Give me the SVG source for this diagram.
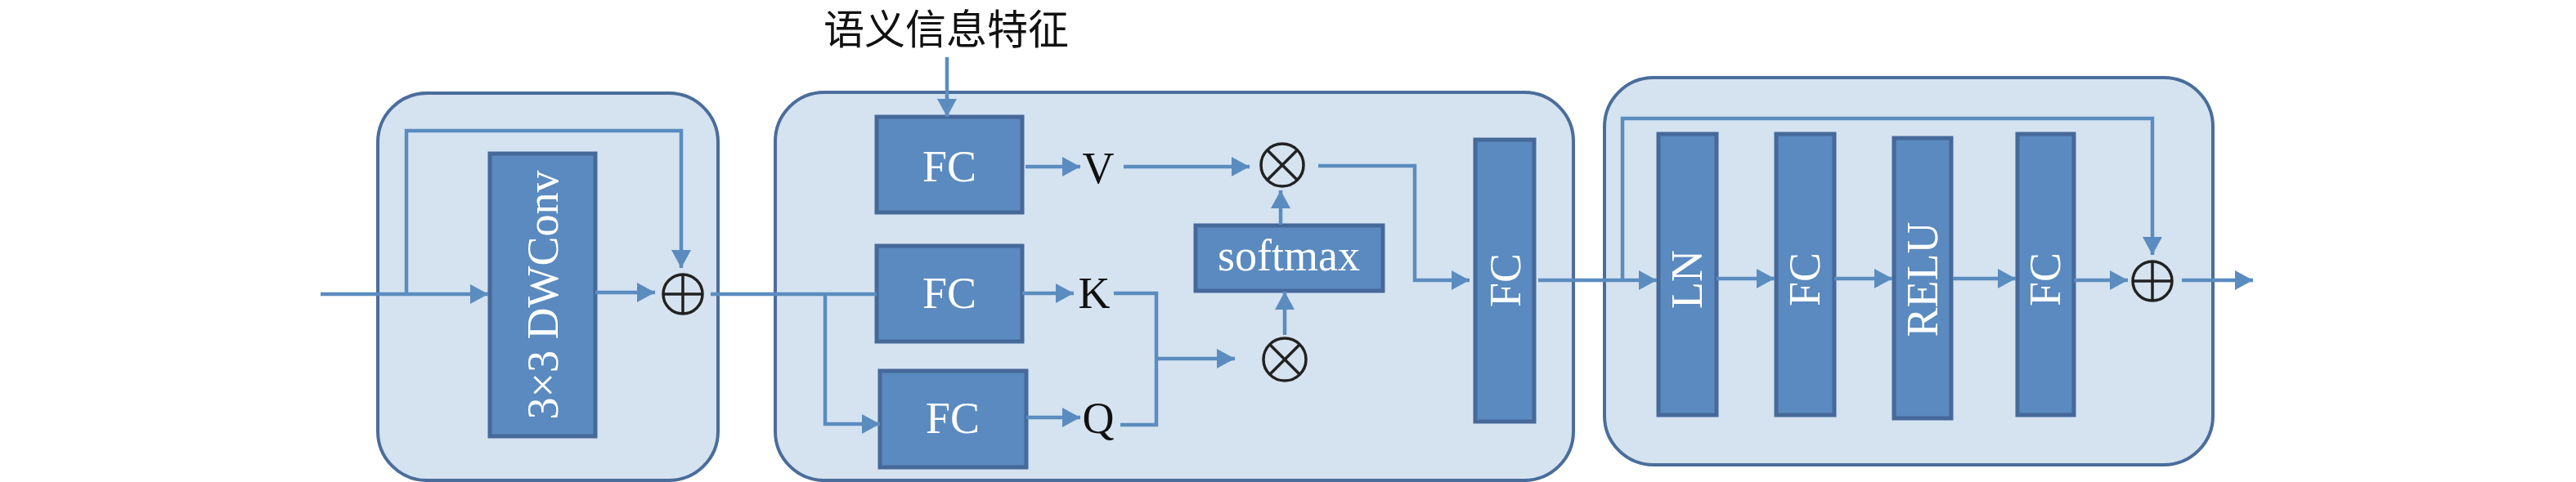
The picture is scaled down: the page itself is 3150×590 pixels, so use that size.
<svg xmlns="http://www.w3.org/2000/svg" width="3150" height="590" viewBox="0 0 3150 590">
<style>
.blk{fill:#D5E3F0;stroke:#4A6D9B;stroke-width:4}
.box{fill:#5A8ABF;stroke:#46699A;stroke-width:5}
.t{font-family:"Liberation Serif","Times New Roman",serif;font-size:54px;fill:#fff;text-anchor:middle}
.b{font-family:"Liberation Serif","Times New Roman",serif;font-size:54px;fill:#111;text-anchor:middle}
.cn{font-family:"Noto Sans CJK SC",sans-serif;font-size:50px;fill:#111;text-anchor:middle}
.ln{fill:none;stroke:#5B8CC0;stroke-width:4.5}
.ar{marker-end:url(#a)}
.op{fill:none;stroke:#222;stroke-width:3.5}
</style>
<defs>
<marker id="a" markerUnits="userSpaceOnUse" markerWidth="24" markerHeight="24" refX="22" refY="12" orient="auto"><path d="M0,0 L22,12 L0,24 z" fill="#5B8CC0"/></marker>
</defs>
<rect width="3150" height="590" fill="#fff"/>
<g id="block1"><rect class="blk" x="462" y="114" width="416" height="474" rx="60"/></g>
<g id="block2"><rect class="blk" x="948" y="113" width="976" height="475" rx="60"/></g>
<g id="block3"><rect class="blk" x="1962" y="95" width="744" height="474" rx="60"/></g>
<g id="title"><text class="cn" x="1157" y="54">语义信息特征</text></g>
<g id="dwconv"><rect class="box" x="599" y="188" width="129" height="346"/><text class="t" transform="translate(682,361) rotate(-90)">3×3 DWConv</text></g>
<g id="add1"><circle class="op" cx="835" cy="360" r="24"/><line class="op" x1="811" y1="360" x2="859" y2="360" stroke-width="3"/><line class="op" x1="835" y1="336" x2="835" y2="384" stroke-width="5.5"/></g>
<g id="fc1"><rect class="box" x="1072" y="143" width="178" height="117"/><text class="t" x="1161" y="222">FC</text></g>
<g id="fc2"><rect class="box" x="1072" y="301" width="178" height="117"/><text class="t" x="1161" y="377">FC</text></g>
<g id="fc3"><rect class="box" x="1076" y="454" width="179" height="118"/><text class="t" x="1165" y="530">FC</text></g>
<g id="v"><text class="b" x="1343" y="224">V</text></g>
<g id="k"><text class="b" x="1338" y="377">K</text></g>
<g id="q"><text class="b" x="1343" y="530">Q</text></g>
<g id="mul1"><circle class="op" cx="1568" cy="202" r="26" stroke-width="5"/><line class="op" x1="1550" y1="184" x2="1586" y2="220"/><line class="op" x1="1586" y1="184" x2="1550" y2="220"/></g>
<g id="mul2"><circle class="op" cx="1571" cy="440" r="26" stroke-width="5"/><line class="op" x1="1553" y1="422" x2="1589" y2="458"/><line class="op" x1="1589" y1="422" x2="1553" y2="458"/></g>
<g id="softmax"><rect class="box" x="1462" y="276" width="229" height="80"/><text class="t" x="1576" y="331">softmax</text></g>
<g id="fc4"><rect class="box" x="1804" y="171" width="72" height="345"/><text class="t" transform="translate(1859,343) rotate(-90)">FC</text></g>
<g id="ln"><rect class="box" x="2028" y="164" width="71" height="344"/><text class="t" transform="translate(2081,342) rotate(-90)">LN</text></g>
<g id="fc5"><rect class="box" x="2172" y="164" width="71" height="344"/><text class="t" transform="translate(2225,342) rotate(-90)">FC</text></g>
<g id="relu"><rect class="box" x="2316" y="169" width="70" height="343"/><text class="t" transform="translate(2369,342) rotate(-90)">RELU</text></g>
<g id="fc6"><rect class="box" x="2467" y="164" width="69" height="344"/><text class="t" transform="translate(2519,342) rotate(-90)">FC</text></g>
<g id="add2"><circle class="op" cx="2632" cy="344" r="24"/><line class="op" x1="2608" y1="344" x2="2656" y2="344" stroke-width="3"/><line class="op" x1="2632" y1="320" x2="2632" y2="368" stroke-width="5.5"/></g>
<g id="connectors">
<path class="ln ar" d="M392,360 H597"/>
<path class="ln ar" d="M497,360 V160 H833 V328"/>
<path class="ln ar" d="M728,358 H801"/>
<path class="ln" d="M869,360 H1072"/>
<path class="ln ar" d="M1009,360 V519 H1076"/>
<path class="ln ar" d="M1158,70 V143"/>
<path class="ln ar" d="M1254,204 H1321"/>
<path class="ln ar" d="M1374,204 H1528"/>
<path class="ln ar" d="M1250,359 H1313"/>
<path class="ln ar" d="M1255,511 H1321"/>
<path class="ln" d="M1362,359 H1414 V520 H1370"/>
<path class="ln ar" d="M1414,439 H1510"/>
<path class="ln ar" d="M1571,410 V357"/>
<path class="ln ar" d="M1566,275 V233"/>
<path class="ln ar" d="M1612,203 H1730 V343 H1797"/>
<path class="ln ar" d="M1881,343 H2026"/>
<path class="ln ar" d="M1984,343 V145 H2632 V312"/>
<path class="ln ar" d="M2099,341 H2170"/>
<path class="ln ar" d="M2243,341 H2314"/>
<path class="ln ar" d="M2388,341 H2465"/>
<path class="ln ar" d="M2536,343 H2602"/>
<path class="ln ar" d="M2668,343 H2755"/>
</g>
</svg>
